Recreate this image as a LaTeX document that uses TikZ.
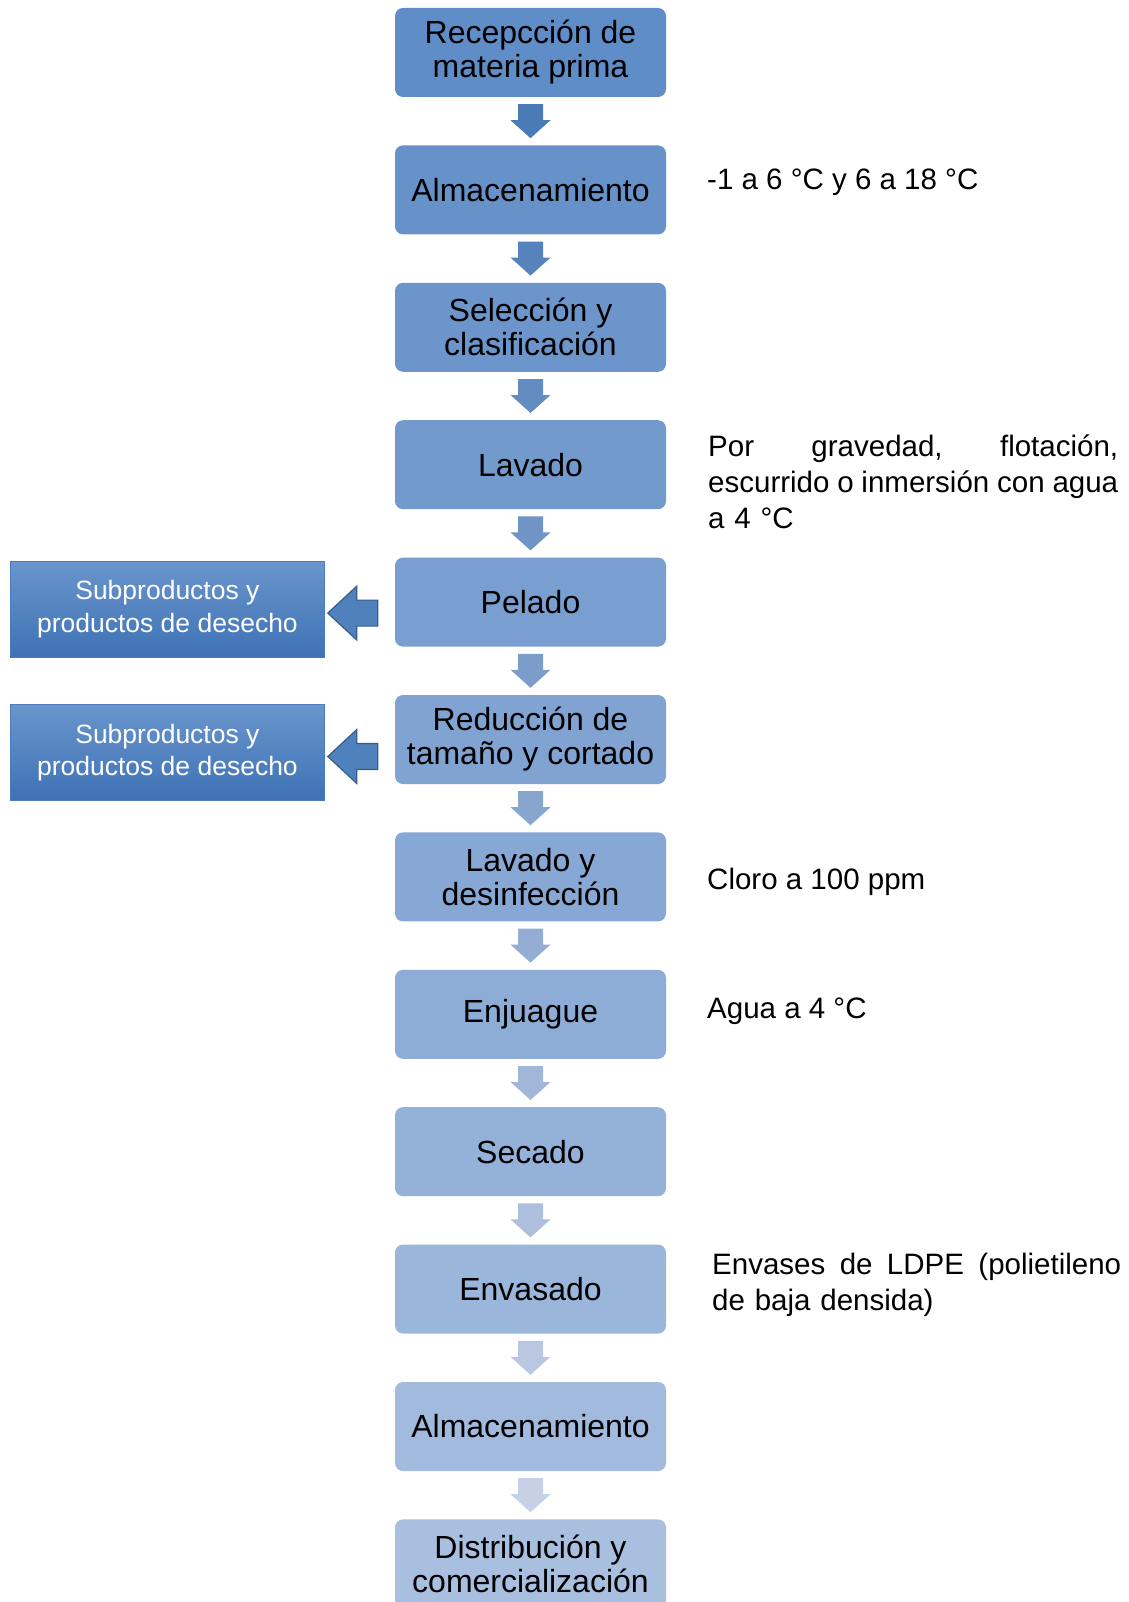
\documentclass[tikz,border=0pt]{standalone}
\usepackage{fontspec}
\setmainfont{Liberation Sans}
\usetikzlibrary{positioning,calc}

\definecolor{boxA}{RGB}{95,141,199}
\definecolor{boxB}{RGB}{168,191,223}
\definecolor{arrA}{RGB}{74,123,183}
\definecolor{arrB}{RGB}{198,208,230}
\definecolor{wasteTop}{RGB}{106,149,204}
\definecolor{wasteBot}{RGB}{62,114,181}
\definecolor{wasteEdge}{RGB}{74,125,186}
\definecolor{sideFill}{RGB}{79,129,189}
\definecolor{sideEdge}{RGB}{56,93,138}

% block arrow between two stages
\newcommand{\flowarrow}[3]{%
\path[fill=#3] ($(#1.south)+(-12.5,-7)$) -- ++(25,0) -- ++(0,-16) -- ++(7.5,0)
  -- ($(#2.north)+(0,7)$) -- ($(#1.south)+(-20,-23)$) -- ++(7.5,0) -- cycle;}
% block arrow pointing left into a waste box
\newcommand{\sidearrow}[1]{%
\path[draw=sideEdge,line width=1.2pt,fill=sideFill] ($(#1.east)+(3,-4)$)
  -- ++(29,27) -- ++(0,-14) -- ++(21,0) -- ++(0,-26) -- ++(-21,0) -- ++(0,-14) -- cycle;}

\tikzset{
  stage/.style={rectangle,rounded corners=8pt,minimum width=271pt,minimum height=89pt,
    inner sep=0pt,align=center,fill=#1,font=\fontsize{32}{34}\selectfont},
  waste/.style={rectangle,minimum width=314pt,minimum height=96pt,inner sep=0pt,
    align=center,text=white,top color=wasteTop,bottom color=wasteBot,draw=wasteEdge,
    line width=0.8pt,font=\fontsize{26.5}{32.5}\selectfont},
  note/.style={anchor=west,inner sep=0pt,align=left,font=\fontsize{29.5}{36}\selectfont}
}

\begin{document}
\begin{tikzpicture}[x=1pt,y=1pt]
\useasboundingbox (0,0) rectangle (1128,-1602);
% main stages
\node[stage=boxA!100!boxB] (recep) at (530.5,-52.5) {Recepcción de\\materia prima};
\node[stage=boxA!91!boxB, below=48pt of recep] (alm1) {Almacenamiento};
\node[stage=boxA!82!boxB, below=48pt of alm1] (selec) {Selección y\\clasificación};
\node[stage=boxA!73!boxB, below=48pt of selec] (lav1) {Lavado};
\node[stage=boxA!64!boxB, below=48pt of lav1] (pelado) {Pelado};
\node[stage=boxA!55!boxB, below=48pt of pelado] (reduc) {Reducción de\\tamaño y cortado};
\node[stage=boxA!45!boxB, below=48pt of reduc] (lav2) {Lavado y\\desinfección};
\node[stage=boxA!36!boxB, below=48pt of lav2] (enjuag) {Enjuague};
\node[stage=boxA!27!boxB, below=48pt of enjuag] (secado) {Secado};
\node[stage=boxA!18!boxB, below=48pt of secado] (envas) {Envasado};
\node[stage=boxA!9!boxB, below=48pt of envas] (alm2) {Almacenamiento};
\node[stage=boxA!0!boxB, below=48pt of alm2] (distr) {Distribución y\\comercialización};
% arrows between stages
\foreach \from/\to [count=\i] in {recep/alm1,alm1/selec,selec/lav1,lav1/pelado,
    pelado/reduc,reduc/lav2,lav2/enjuag,enjuag/secado,secado/envas,envas/alm2,alm2/distr}{
  \pgfmathsetmacro{\pct}{110-\i*10}
  \flowarrow{\from}{\to}{arrA!\pct!arrB}
}
% waste outputs
\node[waste, left=70pt of pelado, yshift=-7pt] (sub1) {Subproductos y\\productos de desecho};
\node[waste, left=70pt of reduc, yshift=-13pt] (sub2) {Subproductos y\\productos de desecho};
\sidearrow{sub1}
\sidearrow{sub2}
% notes
\node[note] (n1) at (707,-182) {-1 a 6 °C y 6 a 18 °C};
\node[note,text width=410pt] (n2) at (708,-482) {Por\hfill gravedad,\hfill flotación,\\
  \makebox[\linewidth][s]{\spaceskip=6pt plus 6pt escurrido o inmersión con agua}\\a 4 °C};
\node[note] (n3) at (707,-882) {Cloro a 100 ppm};
\node[note] (n4) at (707,-1011) {Agua a 4 °C};
\node[note,text width=409pt] (n5) at (712,-1285) {Envases\hfill de\hfill LDPE\hfill (polietileno\\de baja densida)};
\end{tikzpicture}
\end{document}
